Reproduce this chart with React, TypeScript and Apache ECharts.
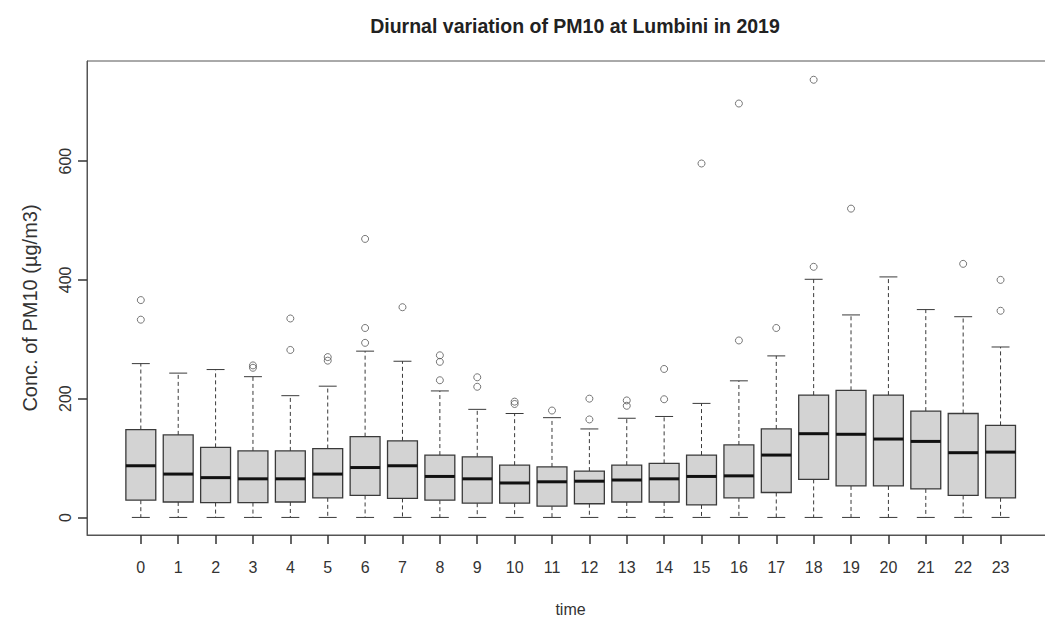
import React, { useEffect, useRef } from "react";
import * as echarts from "echarts";

const titleText = "Diurnal variation of PM10 at Lumbini in 2019";
const xName = "time";
const yName = "Conc. of PM10 (µg/m3)";

const hours = [0, 1, 2, 3, 4, 5, 6, 7, 8, 9, 10, 11, 12, 13, 14, 15, 16, 17, 18, 19, 20, 21, 22, 23];
const yTicks = [0, 200, 400, 600];

const lowerWhisker = [0, 0, 0, 0, 0, 0, 0, 0, 0, 0, 0, 0, 0, 0, 0, 0, 0, 0, 0, 0, 0, 0, 0, 0];
const q1 = [29, 26, 25, 25, 26, 33, 37, 32, 29, 24, 24, 19, 23, 26, 26, 21, 33, 42, 64, 53, 53, 48, 37, 33];
const median = [87, 73, 67, 65, 65, 73, 84, 87, 69, 65, 58, 60, 61, 63, 65, 69, 70, 105, 141, 140, 132, 128, 109, 110];
const q3 = [148, 139, 118, 112, 112, 116, 136, 129, 105, 102, 88, 85, 78, 88, 91, 105, 122, 149, 206, 214, 206, 179, 175, 155];
const upperWhisker = [259, 243, 249, 237, 205, 221, 280, 263, 213, 182, 175, 168, 149, 167, 170, 192, 230, 272, 401, 341, 405, 350, 338, 287];

const outliers = [
  [0, 366], [0, 333],
  [3, 256], [3, 252],
  [4, 335], [4, 282],
  [5, 270], [5, 264],
  [6, 469], [6, 319], [6, 294],
  [7, 354],
  [8, 273], [8, 262], [8, 231],
  [9, 236], [9, 220],
  [10, 195], [10, 191],
  [11, 180],
  [12, 200], [12, 165],
  [13, 197], [13, 188],
  [14, 250], [14, 199],
  [15, 596],
  [16, 697], [16, 298],
  [17, 319],
  [18, 737], [18, 422],
  [19, 520],
  [22, 427],
  [23, 400], [23, 348],
];

const X_MIN = -1.44;
const X_MAX = 24.43;
const Y_MIN = -29.6;
const Y_MAX = 768.6;

const FONT = "'Liberation Sans', Arial, sans-serif";

export default function App() {
  const ref = useRef<HTMLDivElement>(null);

  useEffect(() => {
    document.body.style.margin = "0";
    document.body.style.overflow = "hidden";
    const chart = echarts.init(ref.current as HTMLDivElement, null, { renderer: "svg" });

    const boxData = hours.map((h, i) => [h, lowerWhisker[i], q1[i], median[i], q3[i], upperWhisker[i]]);
    const lineColor = "#3a3a3a";

    const renderItem = (params: any, api: any) => {
      const x = api.value(0);
      const lo = api.coord([x, api.value(1)]);
      const b1 = api.coord([x, api.value(2)]);
      const md = api.coord([x, api.value(3)]);
      const b3 = api.coord([x, api.value(4)]);
      const hi = api.coord([x, api.value(5)]);
      const bw = api.size([0.8, 0])[0];
      const cw = api.size([0.48, 0])[0];
      const cx = lo[0];
      const dashed = { stroke: lineColor, lineWidth: 1, lineDash: [4, 3] };
      const solid = { stroke: lineColor, lineWidth: 1 };
      return {
        type: "group",
        children: [
          { type: "line", shape: { x1: cx, y1: b3[1], x2: cx, y2: hi[1] }, style: dashed },
          { type: "line", shape: { x1: cx, y1: b1[1], x2: cx, y2: lo[1] }, style: dashed },
          { type: "line", shape: { x1: cx - cw / 2, y1: hi[1], x2: cx + cw / 2, y2: hi[1] }, style: solid },
          { type: "line", shape: { x1: cx - cw / 2, y1: lo[1], x2: cx + cw / 2, y2: lo[1] }, style: solid },
          {
            type: "rect",
            shape: { x: cx - bw / 2, y: b3[1], width: bw, height: b1[1] - b3[1] },
            style: { fill: "#d3d3d3", stroke: lineColor, lineWidth: 1.3 },
          },
          { type: "line", shape: { x1: cx - bw / 2, y1: md[1], x2: cx + bw / 2, y2: md[1] }, style: { stroke: "#111", lineWidth: 3 } },
        ],
      };
    };

    chart.setOption({
      animation: false,
      backgroundColor: "#ffffff",
      title: {
        text: titleText,
        left: 570,
        top: 11,
        textAlign: "center",
        textStyle: { fontSize: 19.5, fontWeight: "bold", fontFamily: FONT, color: "#222" },
      },
      grid: {
        left: 87,
        top: 61,
        width: 967,
        height: 474,
        show: true,
        borderColor: "#555",
        borderWidth: 1,
        backgroundColor: "transparent",
        outerBoundsMode: "none",
        containLabel: false,
      },
      xAxis: {
        type: "value",
        min: X_MIN,
        max: X_MAX,
        name: xName,
        nameLocation: "middle",
        nameGap: 66,
        nameTextStyle: { fontSize: 16, fontFamily: FONT, color: "#333" },
        axisLine: { show: true, onZero: false, lineStyle: { color: "#555", width: 1 } },
        splitLine: { show: false },
        axisTick: { show: true, inside: false, length: 9, customValues: hours, lineStyle: { color: "#333", width: 1.5 } },
        axisLabel: { customValues: hours, margin: 24, fontSize: 16, fontFamily: FONT, color: "#333" },
      },
      yAxis: {
        type: "value",
        min: Y_MIN,
        max: Y_MAX,
        name: yName,
        nameLocation: "middle",
        nameRotate: 90,
        nameGap: 47,
        nameTextStyle: { fontSize: 20, fontFamily: FONT, color: "#333", padding: [0, 20, 0, 0] },
        axisLine: { show: true, onZero: false, lineStyle: { color: "#555", width: 1 } },
        splitLine: { show: false },
        axisTick: { show: true, inside: false, length: 9, customValues: yTicks, lineStyle: { color: "#333", width: 1.5 } },
        axisLabel: { customValues: yTicks, rotate: 90, margin: 14, fontSize: 16, fontFamily: FONT, color: "#333" },
      },
      series: [
        {
          type: "custom",
          renderItem,
          data: boxData,
          encode: { x: 0, y: [1, 2, 3, 4, 5] },
          clip: false,
          z: 2,
        },
        {
          type: "scatter",
          data: outliers,
          symbol: "circle",
          symbolSize: 7,
          itemStyle: { color: "rgba(0,0,0,0)", borderColor: "#555", borderWidth: 1 },
          z: 3,
        },
      ],
    });

    return () => chart.dispose();
  }, []);

  return <div ref={ref} style={{ position: "fixed", left: 0, top: 0, width: 1070, height: 621 }} />;
}
